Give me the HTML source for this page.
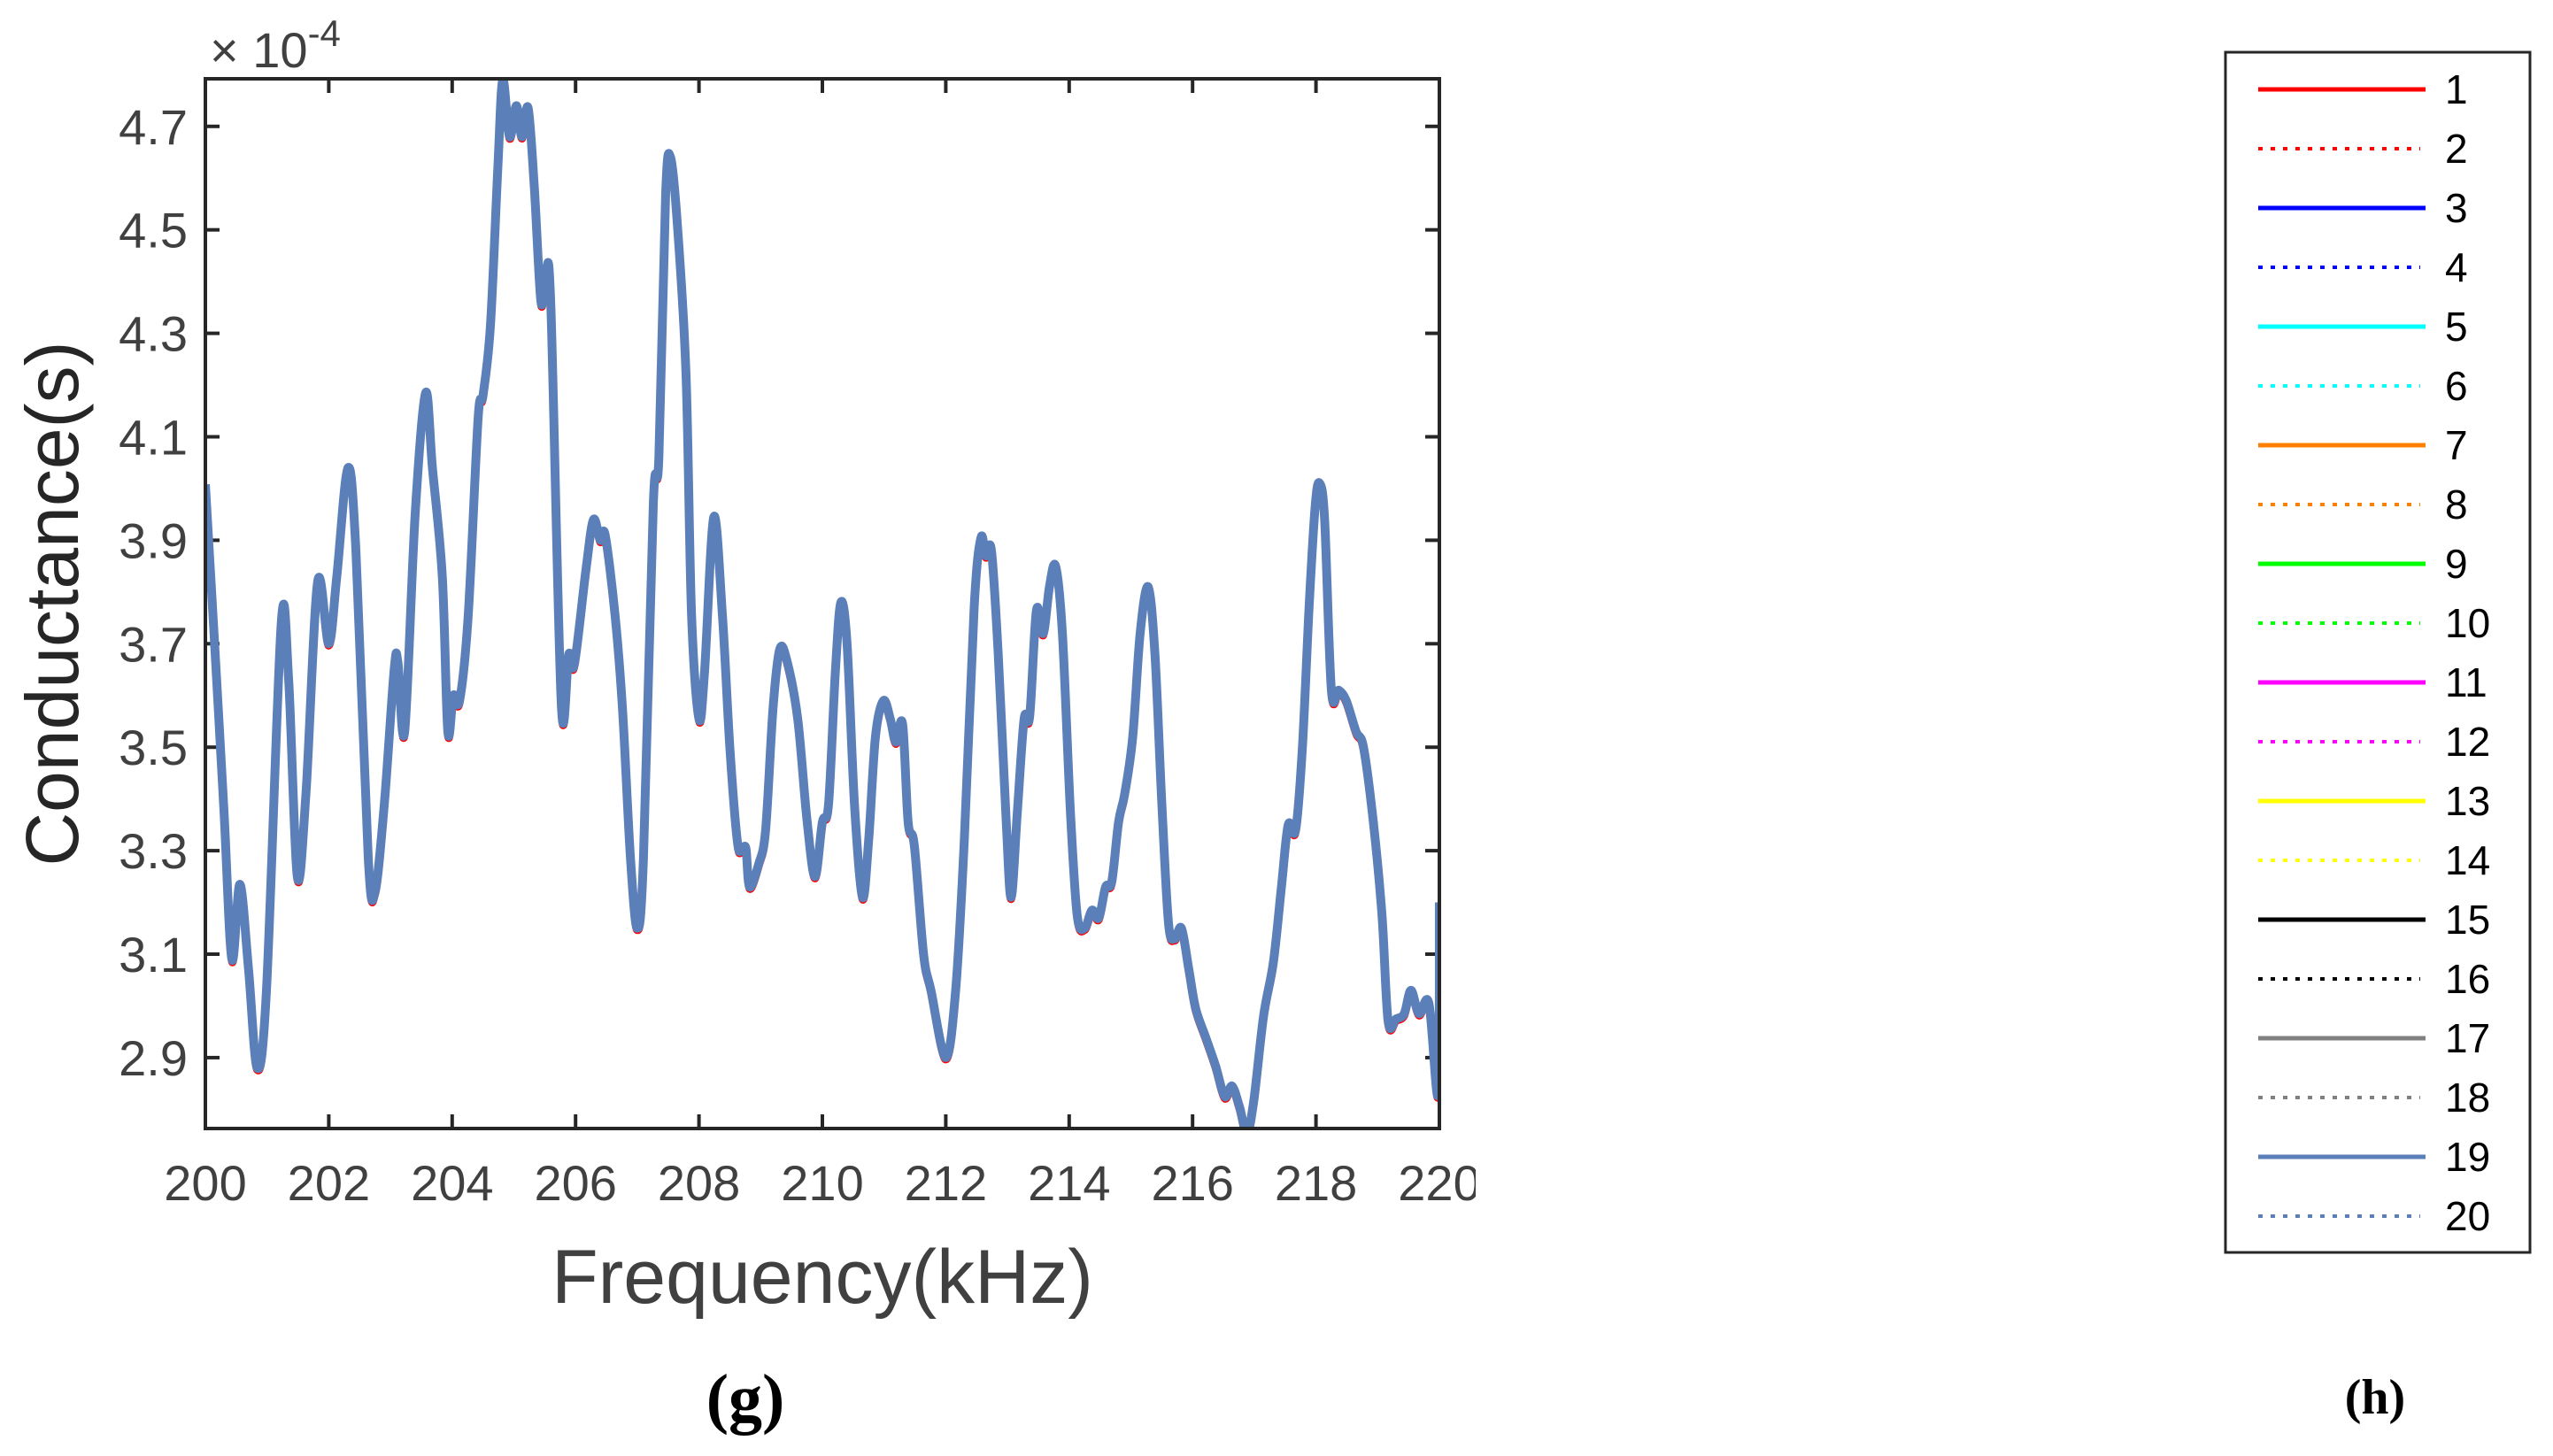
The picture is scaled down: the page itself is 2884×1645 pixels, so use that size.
<!DOCTYPE html>
<html><head><meta charset="utf-8"><style>
html,body{margin:0;padding:0;background:#fff;}
svg{display:block;}
text{font-family:"Liberation Sans",Arial,sans-serif;}
</style></head><body>
<svg id="chart" width="2884" height="1645" viewBox="0 0 2884 1645" xmlns="http://www.w3.org/2000/svg">
<defs><clipPath id="pc"><rect x="232" y="89" width="1394" height="1186"/></clipPath>
<clipPath id="fig"><rect x="0" y="0" width="1667" height="1645"/></clipPath></defs>
<g id="axes"></g>
<g id="series" clip-path="url(#pc)"></g>
<rect x="232" y="89" width="1394" height="1186" fill="none" stroke="#262626" stroke-width="4"/>
<text x="237" y="76" font-size="56" fill="#404040">× 10<tspan dy="-24" font-size="42">-4</tspan></text>
<text transform="translate(88,682) rotate(-90)" text-anchor="middle" font-size="84" fill="#262626">Conductance(s)</text>
<text x="929" y="1472" text-anchor="middle" font-size="86" fill="#404040">Frequency(kHz)</text>
<text x="842" y="1605" text-anchor="middle" font-size="76" font-weight="bold" style="font-family:'Liberation Serif',serif" fill="#000">(g)</text>
<text x="2683" y="1597" text-anchor="middle" font-size="56" font-weight="bold" style="font-family:'Liberation Serif',serif" fill="#000">(h)</text>
<rect x="2514" y="59" width="344" height="1356" fill="#fff" stroke="#262626" stroke-width="3"/>
<g id="legend"></g>
</svg>
<script>
const freq=[200.0,200.14,200.3,200.43,200.56,200.7,200.84,200.99,201.23,201.35,201.49,201.63,201.82,202.0,202.13,202.31,202.44,202.64,202.75,202.9,203.06,203.12,203.23,203.4,203.57,203.68,203.84,203.93,204.02,204.12,204.26,204.42,204.5,204.62,204.74,204.82,204.93,205.04,205.13,205.23,205.33,205.44,205.52,205.6,205.77,205.89,205.98,206.17,206.29,206.4,206.48,206.64,206.76,206.89,207.0,207.1,207.26,207.35,207.46,207.54,207.65,207.79,207.88,208.0,208.09,208.24,208.38,208.5,208.62,208.69,208.76,208.82,208.97,209.08,209.2,209.31,209.43,209.6,209.75,209.88,210.0,210.1,210.21,210.3,210.4,210.52,210.65,210.75,210.86,210.99,211.1,211.19,211.3,211.39,211.49,211.64,211.76,212.0,212.16,212.3,212.46,212.57,212.65,212.74,212.85,212.98,213.06,213.16,213.27,213.36,213.47,213.58,213.68,213.78,213.89,214.02,214.13,214.25,214.37,214.48,214.59,214.69,214.8,214.9,215.03,215.15,215.28,215.39,215.5,215.61,215.71,215.82,215.94,216.05,216.21,216.37,216.52,216.64,216.76,216.88,216.99,217.15,217.31,217.44,217.55,217.67,217.78,217.89,217.99,218.06,218.14,218.25,218.37,218.49,218.65,218.77,218.93,219.07,219.17,219.3,219.43,219.54,219.67,219.83,219.98,220.0];
const conductance=[4.008,3.72,3.38,3.09,3.235,3.07,2.88,3.03,3.74,3.63,3.25,3.41,3.82,3.70,3.83,4.04,3.88,3.285,3.22,3.39,3.65,3.665,3.53,3.95,4.185,4.04,3.83,3.53,3.60,3.59,3.755,4.135,4.18,4.315,4.62,4.79,4.68,4.74,4.68,4.736,4.585,4.36,4.42,4.35,3.58,3.68,3.66,3.845,3.94,3.90,3.91,3.755,3.575,3.285,3.15,3.285,3.97,4.06,4.57,4.64,4.51,4.22,3.755,3.555,3.645,3.945,3.755,3.50,3.32,3.30,3.305,3.23,3.275,3.34,3.575,3.69,3.665,3.555,3.36,3.25,3.355,3.39,3.645,3.78,3.70,3.39,3.21,3.32,3.52,3.59,3.555,3.51,3.545,3.355,3.31,3.10,3.03,2.90,3.03,3.32,3.77,3.905,3.87,3.88,3.68,3.355,3.21,3.375,3.555,3.56,3.765,3.72,3.81,3.85,3.72,3.375,3.175,3.15,3.185,3.17,3.23,3.24,3.355,3.41,3.52,3.72,3.81,3.68,3.395,3.16,3.13,3.15,3.07,2.995,2.94,2.885,2.825,2.845,2.805,2.755,2.815,2.98,3.085,3.23,3.35,3.34,3.50,3.775,3.97,4.01,3.94,3.61,3.61,3.59,3.53,3.50,3.355,3.175,2.97,2.975,2.985,3.03,2.985,3.005,2.83,3.20];
const xTicks=[200,202,204,206,208,210,212,214,216,218,220];
const yTicks=[2.9,3.1,3.3,3.5,3.7,3.9,4.1,4.3,4.5,4.7];
const legendLabels=["1","2","3","4","5","6","7","8","9","10","11","12","13","14","15","16","17","18","19","20"];
const legendColors=["#ff0000","#ff0000","#0000ff","#0000ff","#00ffff","#00ffff","#ff8000","#ff8000","#00ff00","#00ff00","#ff00ff","#ff00ff","#ffff00","#ffff00","#000000","#000000","#808080","#808080","#5b7fb8","#5b7fb8"];

const NS="http://www.w3.org/2000/svg";
const L=232,R=1626,T=89,B=1275,XMIN=200,XMAX=220,YMIN=2.763,YMAX=4.792;
const sx=f=>L+(f-XMIN)/(XMAX-XMIN)*(R-L);
const sy=v=>B-(v-YMIN)/(YMAX-YMIN)*(B-T);
function mk(tag,attrs,parent){const e=document.createElementNS(NS,tag);for(const k in attrs)e.setAttribute(k,attrs[k]);parent.appendChild(e);return e;}
const axes=document.getElementById('axes');
const figClip=document.createElementNS(NS,'g');figClip.setAttribute('clip-path','url(#fig)');axes.appendChild(figClip);
xTicks.forEach(t=>{
  const x=sx(t);
  const a=mk('line',{x1:x,x2:x,y1:B,y2:B-16,stroke:'#262626','stroke-width':4},axes);
  
  
  const b=mk('line',{x1:x,x2:x,y1:T,y2:T+16,stroke:'#262626','stroke-width':4},axes);
  
  
  const tx=mk('text',{x:x,y:1356,'text-anchor':'middle','font-size':56,fill:'#404040'},figClip);
  tx.textContent=String(t);
  
  
});
yTicks.forEach(t=>{
  const y=sy(t);
  const a=mk('line',{x1:L,x2:L+16,y1:y,y2:y,stroke:'#262626','stroke-width':4},axes);
  
  
  const b=mk('line',{x1:R,x2:R-16,y1:y,y2:y,stroke:'#262626','stroke-width':4},axes);
  
  
  const tx=mk('text',{x:L-20,y:y+20,'text-anchor':'end','font-size':56,fill:'#404040'},axes);
  tx.textContent=t.toFixed(1);
  
  
});
const pts=freq.map((f,i)=>[sx(f),sy(conductance[i])]);
let d='M'+pts[0][0]+','+pts[0][1];
for(let i=0;i<pts.length-1;i++){
  const p0=pts[Math.max(0,i-1)],p1=pts[i],p2=pts[i+1],p3=pts[Math.min(pts.length-1,i+2)];
  const c1=[p1[0]+(p2[0]-p0[0])/6,p1[1]+(p2[1]-p0[1])/6];
  const c2=[p2[0]-(p3[0]-p1[0])/6,p2[1]-(p3[1]-p1[1])/6];
  d+=` C${c1[0]},${c1[1]} ${c2[0]},${c2[1]} ${p2[0]},${p2[1]}`;
}
const series=document.getElementById('series');
const under=mk('path',{d:d,fill:'none',stroke:'#ff0000','stroke-width':9,'stroke-linejoin':'round',transform:'translate(0,2)'},series);


const main=mk('path',{d:d,fill:'none',stroke:'#5b7fb8','stroke-width':10,'stroke-linejoin':'round'},series);


const leg=document.getElementById('legend');
legendLabels.forEach((lab,i)=>{
  const y=101+i*67;
  const dotted=i%2===1;
  const ln=mk('line',{x1:2551,x2:dotted?2734:2740,y1:y,y2:y,stroke:legendColors[i],'stroke-width':dotted?4:5},leg);
  if(dotted)ln.setAttribute('stroke-dasharray','5 9');
  
  
  const tx=mk('text',{x:2762,y:y+16,'text-anchor':'start','font-size':46,fill:'#000'},leg);
  tx.textContent=lab;
  
  
});
</script>
</body></html>
